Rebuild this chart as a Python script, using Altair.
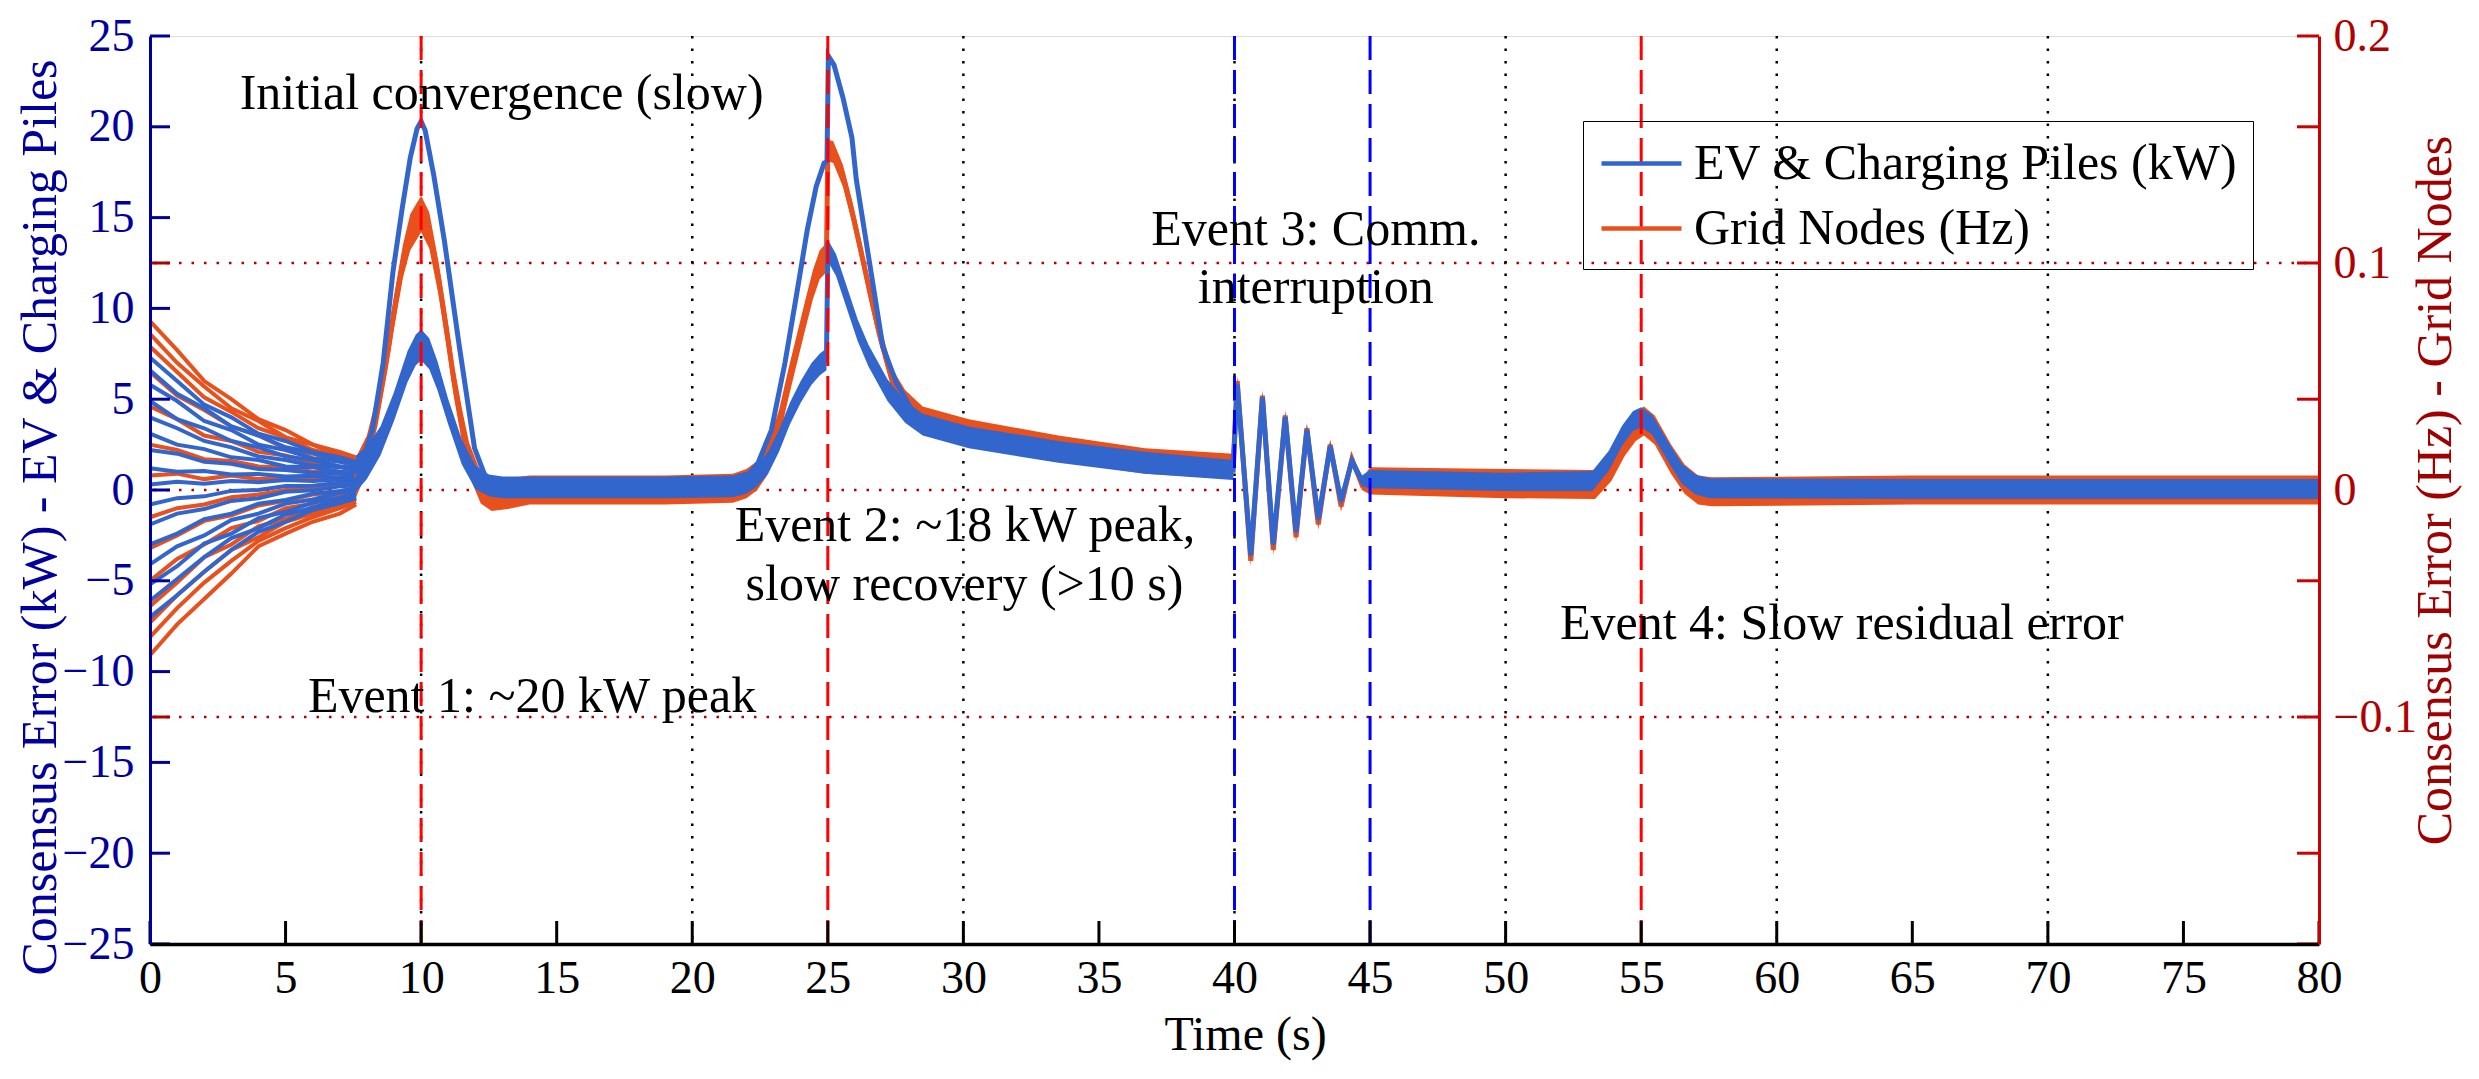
import altair as alt
import pandas as pd

# ---------------- data ----------------
EV_LABEL = "EV & Charging Piles (kW)"
GRID_LABEL = "Grid Nodes (Hz)"

# initial convergence (0 - 7.6 s): several agents per group
T_INIT = [0, 1, 2, 3, 4, 5, 6, 7, 7.6]
GRID_INIT_LINES = [
    [9.3, 7.7, 6.0, 5.0, 3.9, 3.3, 2.5, 2.1, 1.8],
    [8.6, 7.0, 5.7, 4.5, 3.8, 2.9, 2.5, 1.9, 1.7],
    [7.9, 6.5, 5.1, 4.3, 3.4, 2.9, 2.2, 1.9, 1.6],
    [6.5, 5.2, 4.4, 3.5, 3.0, 2.3, 2.0, 1.6, 1.4],
    [4.6, 3.9, 3.0, 2.7, 2.1, 1.9, 1.5, 1.3, 1.2],
    [2.5, 2.2, 1.7, 1.6, 1.3, 1.25, 1.0, 0.95, 0.85],
    [0.8, 0.9, 0.6, 0.8, 0.6, 0.7, 0.6, 0.7, 0.65],
    [-1.5, -1.0, -0.8, -0.4, -0.25, 0.0, 0.1, 0.25, 0.3],
    [-3.2, -2.5, -1.7, -1.4, -0.85, -0.6, -0.25, -0.1, 0.05],
    [-5.0, -3.8, -3.0, -2.1, -1.7, -1.0, -0.75, -0.3, -0.2],
    [-6.4, -5.1, -3.7, -3.0, -2.0, -1.6, -0.95, -0.65, -0.4],
    [-7.3, -5.8, -4.5, -3.3, -2.6, -1.75, -1.3, -0.8, -0.5],
    [-8.1, -6.5, -5.1, -3.9, -2.8, -2.1, -1.5, -1.0, -0.65],
    [-9.1, -7.4, -6.0, -4.6, -3.1, -2.4, -1.75, -1.3, -0.8],
]
EV_INIT_LINES = [
    [7.3, 6.0, 4.7, 4.0, 3.1, 2.7, 2.1, 1.8, 1.55],
    [6.6, 5.3, 4.5, 3.5, 3.0, 2.35, 2.05, 1.6, 1.45],
    [5.8, 4.9, 3.8, 3.3, 2.5, 2.2, 1.75, 1.55, 1.35],
    [4.9, 3.9, 3.4, 2.7, 2.35, 1.85, 1.65, 1.3, 1.2],
    [4.0, 3.4, 2.7, 2.35, 1.85, 1.65, 1.35, 1.25, 1.1],
    [3.1, 2.5, 2.25, 1.8, 1.65, 1.3, 1.25, 1.0, 0.95],
    [2.2, 2.0, 1.55, 1.45, 1.15, 1.1, 0.95, 0.9, 0.8],
    [1.2, 1.0, 1.05, 0.85, 0.88, 0.75, 0.78, 0.68, 0.7],
    [0.3, 0.45, 0.35, 0.5, 0.43, 0.55, 0.5, 0.58, 0.56],
    [-0.8, -0.45, -0.35, -0.05, 0.0, 0.22, 0.24, 0.4, 0.4],
    [-1.9, -1.3, -1.05, -0.6, -0.45, -0.1, -0.02, 0.2, 0.25],
    [-3.0, -2.4, -1.6, -1.3, -0.75, -0.55, -0.2, -0.05, 0.1],
    [-4.1, -3.1, -2.5, -1.65, -1.3, -0.75, -0.52, -0.15, -0.06],
    [-5.2, -4.2, -2.95, -2.4, -1.55, -1.2, -0.7, -0.42, -0.21],
    [-6.1, -4.9, -3.7, -2.65, -2.1, -1.35, -0.98, -0.5, -0.34],
    [-7.0, -5.8, -4.5, -3.3, -2.3, -1.75, -1.1, -0.72, -0.46],
]

# main EV strand (centre of the noisy band) and its noise half-width
EV_T = [7.6, 8.0, 8.5, 9.0, 9.5, 9.8, 10.0, 10.3, 10.6, 11.0, 11.5, 12.0, 12.5, 13.0, 16.0,
        19.0, 21.5, 22.0, 22.4, 22.8, 23.2, 23.6, 24.0, 24.4, 24.7, 24.95, 25.0, 25.3, 25.7, 26.1,
        26.5, 27.2, 27.85, 28.5, 30.2, 33.5, 36.7, 39.95, 40.1, 40.6, 41.03, 41.43, 41.87, 42.27, 42.67,
        43.09, 43.53, 43.93, 44.33, 44.7, 45.0, 50.0, 53.2, 53.8, 54.3, 54.7, 55.0, 55.4, 56.0, 56.5,
        57.0, 57.5, 65.0, 72.0, 80.0]
EV_MID = [0.9, 1.5, 2.7, 4.6, 6.8, 7.7, 8.0, 7.5, 6.3, 4.3, 2.1, 0.7, 0.25, 0.15, 0.15,
          0.15, 0.2, 0.4, 0.8, 1.5, 2.7, 4.2, 5.4, 6.4, 6.9, 7.2, 13.2, 12.4, 10.6, 8.8,
          7.4, 5.5, 4.3, 3.6, 2.9, 2.1, 1.5, 1.1, 5.8, -3.6, 5.1, -3.0, 4.0, -2.3, 3.3,
          -1.6, 2.4, -0.6, 1.6, 0.5, 0.6, 0.45, 0.5, 1.6, 3.0, 3.8, 4.0, 3.6, 2.1, 0.9,
          0.3, 0.1, 0.05, 0.05, 0.05]
EV_SPREAD = [1.0, 0.9, 0.8, 0.8, 0.85, 0.85, 0.85, 0.85, 0.8, 0.7, 0.7, 0.65, 0.6, 0.6, 0.6,
             0.6, 0.6, 0.6, 0.6, 0.6, 0.6, 0.6, 0.6, 0.6, 0.6, 0.6, 0.6, 0.6, 0.6, 0.6,
             0.6, 0.6, 0.6, 0.6, 0.6, 0.6, 0.6, 0.55, 0.3, 0.3, 0.3, 0.3, 0.3, 0.3, 0.3,
             0.3, 0.3, 0.3, 0.3, 0.3, 0.5, 0.5, 0.55, 0.55, 0.55, 0.55, 0.55, 0.55, 0.55, 0.55,
             0.55, 0.55, 0.55, 0.55, 0.55]

# EV agents with the largest excursion at events 1 and 2
EV_PEAK1_T = [7.9, 8.2, 8.6, 8.96, 9.3, 9.6, 9.85, 10.0, 10.15, 10.47, 10.86, 11.4, 11.97, 12.35, 12.7]
EV_PEAK1_V = [1.9, 3.3, 7.0, 12.0, 15.5, 18.3, 19.9, 20.3, 19.8, 17.3, 13.7, 8.0, 2.3, 0.8, 0.3]
EV_PEAK2_T = [21.9, 22.43, 22.92, 23.42, 23.83, 24.24, 24.57, 24.86, 24.97, 25.02, 25.23, 25.56,
              25.89, 26.05, 26.54, 27.03, 27.53, 28.18, 28.7]
EV_PEAK2_V = [0.5, 1.5, 3.3, 7.0, 10.6, 14.3, 16.7, 18.0, 18.1, 23.9, 23.4, 21.6,
              19.4, 17.1, 12.5, 7.9, 5.9, 4.2, 3.6]

# main grid strand and its noise half-width (plotted on the kW-equivalent scale)
GRID_T = [7.6, 8.0, 8.4, 8.77, 9.0, 9.33, 9.6, 10.0, 10.3, 10.65, 11.0, 11.2, 11.5, 11.77, 12.2,
          12.6, 13.2, 14.0, 19.0, 21.5, 22.0, 22.4, 22.76, 23.2, 23.57, 24.16, 24.45, 24.7, 24.95, 25.0,
          25.2, 25.56, 25.9, 26.2, 26.55, 26.87, 27.37, 27.85, 28.5, 30.2, 33.5, 36.7, 39.95, 40.1, 40.6,
          41.03, 41.43, 41.87, 42.27, 42.67, 43.09, 43.53, 43.93, 44.33, 44.7, 45.0, 50.0, 53.3, 53.9, 54.4,
          54.8, 55.1, 55.5, 56.1, 56.6, 57.1, 57.6, 65.0, 72.0, 80.0]
GRID_MID = [0.7, 2.0, 4.5, 7.6, 9.8, 12.6, 14.2, 15.2, 14.3, 11.6, 8.2, 6.1, 3.6, 1.7, 0.1,
            -0.3, -0.2, 0.0, 0.0, 0.1, 0.35, 0.8, 1.6, 3.6, 6.0, 9.6, 11.3, 12.4, 12.8, 18.7,
            18.6, 17.3, 15.3, 13.3, 10.9, 8.8, 6.1, 4.9, 4.0, 3.2, 2.3, 1.6, 1.3, 6.0, -3.9,
            5.2, -3.3, 4.1, -2.6, 3.4, -1.9, 2.5, -0.9, 1.7, 0.3, 0.5, 0.35, 0.3, 1.3, 2.7,
            3.5, 3.8, 3.3, 1.7, 0.6, 0.0, -0.1, 0.0, 0.0, 0.0]
GRID_SPREAD = [1.1, 1.0, 0.9, 0.9, 0.9, 0.9, 1.0, 1.0, 1.0, 0.9, 0.9, 0.9, 0.9, 0.9, 0.85,
               0.85, 0.85, 0.8, 0.8, 0.8, 0.8, 0.8, 0.8, 0.8, 0.8, 0.8, 0.8, 0.8, 0.8, 0.6,
               0.6, 0.6, 0.6, 0.6, 0.6, 0.6, 0.6, 0.6, 0.6, 0.7, 0.7, 0.7, 0.7, 0.3, 0.3,
               0.3, 0.3, 0.3, 0.3, 0.3, 0.3, 0.3, 0.3, 0.3, 0.3, 0.75, 0.8, 0.8, 0.8, 0.8,
               0.8, 0.8, 0.8, 0.8, 0.8, 0.8, 0.8, 0.8, 0.8, 0.8]

ANNOT_TEXT = ["Initial convergence (slow)", "Event 1: ~20 kW peak", "Event 2: ~18 kW peak,",
              "slow recovery (>10 s)", "Event 3: Comm.", "interruption", "Event 4: Slow residual error"]
ANNOT_X = [12.97, 14.09, 30.06, 30.04, 43.0, 43.0, 62.4]
ANNOT_Y = [20.96, -12.21, -2.79, -6.06, 13.49, 10.28, -8.22]

EVENT_RED_X = [10, 25, 55]
EVENT_BLUE_X = [40, 45]
VGRID_X = [10, 20, 30, 40, 50, 60, 70]
HZ_GRID = [0.1, 0.0, -0.1]
X_TICKS = list(range(0, 81, 5))
KW_TICKS = list(range(-25, 26, 5))
HZ_LABELS = [0.2, 0.1, 0.0, -0.1]
HZ_TICK_MARKS = [0.2, 0.16, 0.1, 0.04, 0.0, -0.04, -0.1, -0.16, -0.2]
HZ_LEFT_MARKS = [0.1, -0.1]

# ---------------- styling ----------------
W, H = 2169, 908
FONT = "Liberation Serif"
BLUE = "#3366CC"
ORANGE = "#E8501C"
NAVY = "#00009E"
DARKRED = "#B00000"
RIGHTRED = "#CC0000"

X_RANGE = [0, 80]
KW_RANGE = [-25, 25]
HZ_RANGE = [-0.2, 0.2]
px_x = (X_RANGE[1] - X_RANGE[0]) / W
px_y = (KW_RANGE[1] - KW_RANGE[0]) / H

xscale = alt.Scale(domain=X_RANGE, nice=False, zero=False)
yscale = alt.Scale(domain=KW_RANGE, nice=False, zero=False)
hzscale = alt.Scale(domain=HZ_RANGE, nice=False, zero=False)

xaxis = alt.Axis(values=X_TICKS, title="Time (s)", grid=False, ticks=True, tickSize=0,
                 domainColor="black", domainWidth=3.5, labelFont=FONT, labelFontSize=46,
                 labelColor="black", labelPadding=48, labelBaseline="alphabetic",
                 labelFlush=False, labelOverlap=False, titleFont=FONT, titleFontSize=48,
                 titleFontWeight="normal", titleColor="black", titleX=1095, titleY=105,
                 titleBaseline="alphabetic", titleAlign="center", zindex=1)
yaxis = alt.Axis(orient="left", values=KW_TICKS, title="Consensus Error (kW) - EV & Charging Piles",
                 grid=False, ticks=True, tickSize=0, domainColor=NAVY, domainWidth=3,
                 labelFont=FONT, labelFontSize=46, labelColor=NAVY, labelPadding=16,
                 labelFlush=False, labelOverlap=False, titleFont=FONT, titleFontSize=50,
                 titleFontWeight="normal", titleColor=NAVY, titleAngle=270, titleX=-95, titleY=481,
                 titleBaseline="alphabetic", titleAlign="center", zindex=1)
hzaxis = alt.Axis(orient="right", values=HZ_LABELS, format="~g",
                  title="Consensus Error (Hz) - Grid Nodes", grid=False, ticks=True, tickSize=0,
                  domainColor=RIGHTRED, domainWidth=3, labelFont=FONT, labelFontSize=46,
                  labelColor=DARKRED, labelPadding=14, labelFlush=False, labelOverlap=False,
                  titleFont=FONT, titleFontSize=50, titleFontWeight="normal", titleColor="#A00000",
                  titleAngle=270, titleX=131, titleY=454, titleBaseline="alphabetic",
                  titleAlign="center", zindex=1)

cscale = alt.Scale(domain=[EV_LABEL, GRID_LABEL], range=[BLUE, ORANGE])
legend = alt.Legend(title=None, orient="none", legendX=1433, legendY=85,
                    symbolType="M-1.6,0L1.6,0", symbolSize=2500, symbolStrokeWidth=4.5,
                    symbolOffset=16, labelFont=FONT, labelFontSize=50, labelColor="black",
                    labelOffset=25, labelLimit=1000, padding=15, rowPadding=12,
                    strokeColor="black")


def X(f):
    return alt.X(f"{f}:Q", scale=xscale, axis=xaxis)


def Y(f):
    return alt.Y(f"{f}:Q", scale=yscale, axis=yaxis)


def YH(f):
    return alt.Y(f"{f}:Q", scale=hzscale, axis=hzaxis)


def C():
    return alt.Color("group:N", scale=cscale, legend=legend)


# ---------------- tables ----------------
def init_table(lines, prefix):
    rows = []
    for i, vals in enumerate(lines):
        for t, v in zip(T_INIT, vals):
            rows.append({"t": t, "v": v, "series": f"{prefix}{i}"})
    return pd.DataFrame(rows)


grid_init = init_table(GRID_INIT_LINES, "g")
ev_init = init_table(EV_INIT_LINES, "e")

ev_main = pd.DataFrame({"t": EV_T, "v": EV_MID, "s": EV_SPREAD})
ev_main["lo"] = ev_main["v"] - ev_main["s"]
ev_main["hi"] = ev_main["v"] + ev_main["s"]
grid_main = pd.DataFrame({"t": GRID_T, "v": GRID_MID, "s": GRID_SPREAD})
grid_main["lo"] = grid_main["v"] - grid_main["s"]
grid_main["hi"] = grid_main["v"] + grid_main["s"]

ev_lines = pd.concat([
    pd.DataFrame({"t": EV_T, "v": EV_MID, "series": "low"}),
    pd.DataFrame({"t": EV_PEAK1_T, "v": EV_PEAK1_V, "series": "peak1"}),
    pd.DataFrame({"t": EV_PEAK2_T, "v": EV_PEAK2_V, "series": "peak2"}),
], ignore_index=True)
ev_lines["group"] = EV_LABEL
grid_lines = pd.DataFrame({"t": GRID_T, "v": GRID_MID, "series": "main"})
grid_lines["group"] = GRID_LABEL

annot = pd.DataFrame({"x": ANNOT_X, "y": ANNOT_Y, "label": ANNOT_TEXT})

x_ticks = pd.DataFrame({"x": X_TICKS, "y": KW_RANGE[0], "y2": KW_RANGE[0] + 23 * px_y})
kw_ticks = pd.DataFrame({"y": KW_TICKS, "x": X_RANGE[0], "x2": X_RANGE[0] + 20 * px_x})
hz_right = pd.DataFrame({"hz": HZ_TICK_MARKS, "x": X_RANGE[1] - 22 * px_x, "x2": X_RANGE[1]})
hz_left = pd.DataFrame({"hz": HZ_LEFT_MARKS, "x": X_RANGE[0], "x2": X_RANGE[0] + 20 * px_x})

# ---------------- layers ----------------
hz_grid = alt.Chart(pd.DataFrame({"hz": HZ_GRID})).mark_rule(
    color=DARKRED, strokeDash=[2.5, 10], strokeWidth=2.5).encode(y=YH("hz"))
hz_tick_r = alt.Chart(hz_right).mark_rule(color=RIGHTRED, strokeWidth=3).encode(
    x=X("x"), x2="x2:Q", y=YH("hz"))
hz_tick_l = alt.Chart(hz_left).mark_rule(color=DARKRED, strokeWidth=3).encode(
    x=X("x"), x2="x2:Q", y=YH("hz"))
hz_layer = alt.layer(hz_grid, hz_tick_r, hz_tick_l)

vgrid = alt.Chart(pd.DataFrame({"x": VGRID_X})).mark_rule(
    color="black", strokeDash=[2.5, 10], strokeWidth=2.5).encode(x=X("x"))
g_init = alt.Chart(grid_init).mark_line(color=ORANGE, strokeWidth=4).encode(
    x=X("t"), y=Y("v"), detail="series:N")
e_init = alt.Chart(ev_init).mark_line(color=BLUE, strokeWidth=4).encode(
    x=X("t"), y=Y("v"), detail="series:N")
g_band = alt.Chart(grid_main).mark_area(color=ORANGE).encode(x=X("t"), y=Y("lo"), y2="hi:Q")
g_line = alt.Chart(grid_lines).mark_line(strokeWidth=5).encode(
    x=X("t"), y=Y("v"), color=C(), detail="series:N")
e_band = alt.Chart(ev_main).mark_area(color=BLUE).encode(x=X("t"), y=Y("lo"), y2="hi:Q")
e_line = alt.Chart(ev_lines).mark_line(strokeWidth=5).encode(
    x=X("t"), y=Y("v"), color=C(), detail="series:N")
ev_red = alt.Chart(pd.DataFrame({"x": EVENT_RED_X})).mark_rule(
    color="#FF0000", strokeDash=[24, 10], strokeWidth=3).encode(x=X("x"))
ev_blue = alt.Chart(pd.DataFrame({"x": EVENT_BLUE_X})).mark_rule(
    color="#0000FF", strokeDash=[24, 10], strokeWidth=3).encode(x=X("x"))
texts = alt.Chart(annot).mark_text(font=FONT, fontSize=50, align="center",
                                   baseline="alphabetic", color="black").encode(
    x=X("x"), y=Y("y"), text="label:N")
xt = alt.Chart(x_ticks).mark_rule(color="black", strokeWidth=3).encode(
    x=X("x"), y=Y("y"), y2="y2:Q")
kt = alt.Chart(kw_ticks).mark_rule(color=NAVY, strokeWidth=3).encode(
    x=X("x"), x2="x2:Q", y=Y("y"))

kw_layer = alt.layer(vgrid, g_init, e_init, g_band, g_line, e_band, e_line,
                     ev_red, ev_blue, texts, xt, kt)

chart = alt.layer(hz_layer, kw_layer).resolve_scale(y="independent").properties(
    width=W, height=H,
    autosize=alt.AutoSizeParams(type="none"),
    padding={"left": 142, "top": 28, "right": 150, "bottom": 127},
).configure_view(strokeWidth=0).configure_legend(strokeWidth=3.5).configure(background="white")

chart.save("out.html", embed_options={"renderer": "svg", "actions": False})
